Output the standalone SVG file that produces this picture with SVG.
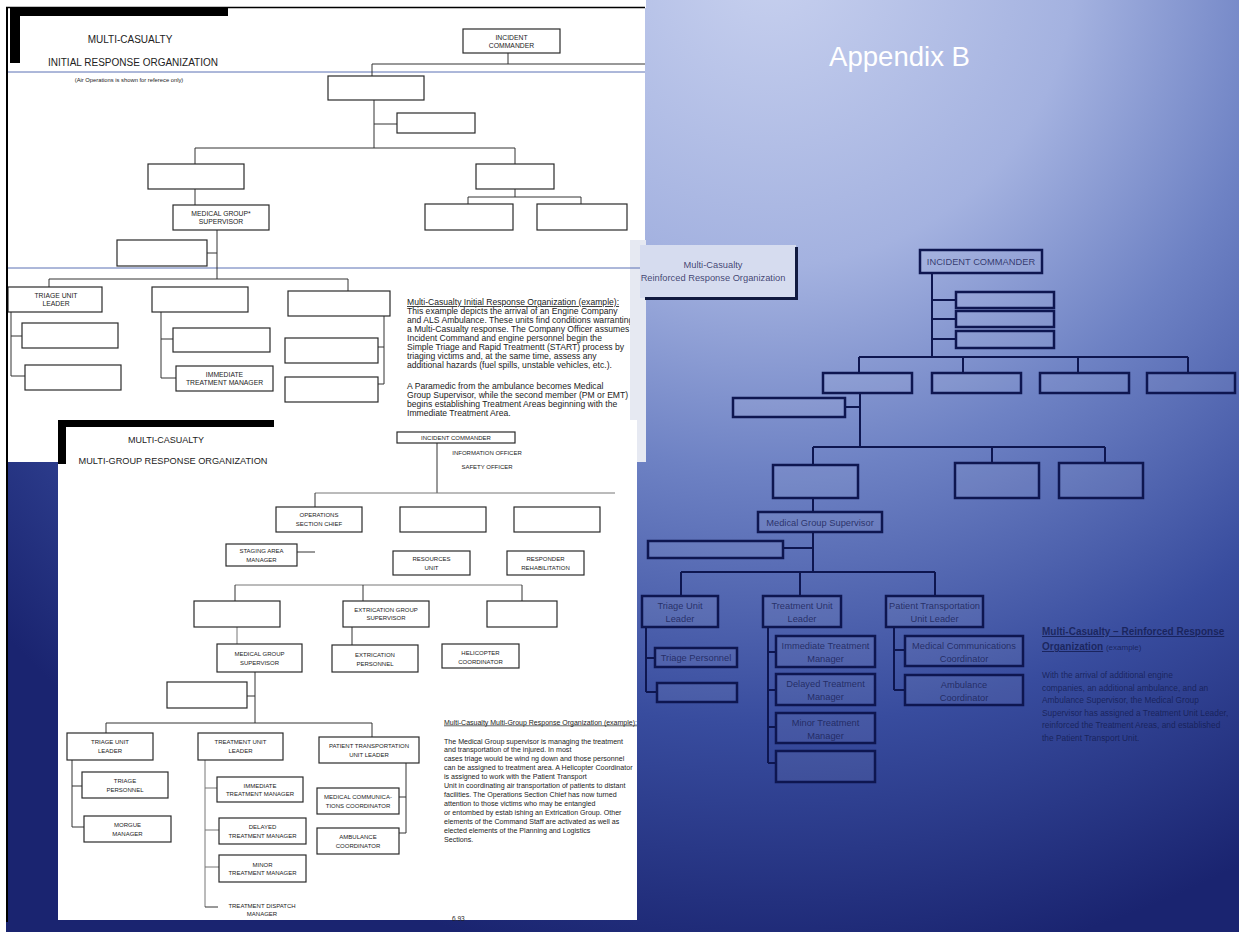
<svg xmlns="http://www.w3.org/2000/svg" width="1239" height="932" viewBox="0 0 1239 932">
<defs>
<radialGradient id="bg" gradientUnits="userSpaceOnUse" cx="770" cy="-40" r="1020">
<stop offset="0" stop-color="#c8d1ef"/>
<stop offset="0.3" stop-color="#a4b2e0"/>
<stop offset="0.5" stop-color="#6e82c4"/>
<stop offset="0.75" stop-color="#384c9e"/>
<stop offset="1" stop-color="#1a2470"/>
</radialGradient>
<clipPath id="clipA"><rect x="8" y="8" width="622" height="454"/></clipPath>
<style>
.bx{fill:#fff;stroke:#2a2a2a;stroke-width:1.2}
.ln{fill:none;stroke:#333;stroke-width:1}
.lg{fill:none;stroke:#777;stroke-width:1}
.t{font-family:"Liberation Sans",Arial,sans-serif;fill:#222;text-anchor:middle}
.ta{font-size:6.8px}
.tb{font-size:6px}
.body{font-family:"Liberation Sans",Arial,sans-serif;fill:#222}
.rb{fill:#ffffff;fill-opacity:0.07;stroke:#0e1650;stroke-width:2.5}
.rl{fill:none;stroke:#0e1650;stroke-width:2}
.rt{font-family:"Liberation Sans",Arial,sans-serif;fill:#1a2256;fill-opacity:0.82;text-anchor:middle;font-size:9.3px}
</style>
</defs>

<rect x="0" y="0" width="1239" height="932" fill="url(#bg)"/>
<rect x="0" y="0" width="646" height="8" fill="#fff"/>
<rect x="0" y="0" width="6" height="932" fill="#fff"/>

<!-- Appendix B title -->
<text x="829" y="66" font-family="Liberation Sans, Arial, sans-serif" font-size="28" fill="#fff" textLength="141" lengthAdjust="spacingAndGlyphs">Appendix B</text>

<!-- ================= PANEL A ================= -->
<g id="panelA">
<rect x="8" y="8" width="637" height="454" fill="#fff"/>
<rect x="630" y="240" width="16" height="222" fill="#e6e9f2"/>
<line x1="6" y1="7.5" x2="645" y2="7.5" stroke="#000" stroke-width="1.6"/>
<rect x="10" y="8" width="218" height="8" fill="#000"/>
<rect x="10" y="8" width="10" height="55" fill="#000"/>
<line x1="8" y1="72" x2="645" y2="72" stroke="#5a70b4" stroke-width="1"/>
<line x1="8" y1="268" x2="645" y2="268" stroke="#5a70b4" stroke-width="1"/>
<text class="t" x="130" y="43" font-size="10">MULTI-CASUALTY</text>
<text class="t" x="133" y="66" font-size="10">INITIAL RESPONSE ORGANIZATION</text>
<text class="t" x="129" y="82" font-size="5.8">(Air Operations is shown for referece only)</text>
<g clip-path="url(#clipA)">
<text class="body" x="407" y="305" font-size="8.6" text-decoration="underline">Multi-Casualty Initial Response Organization (example):</text>
<text class="body" x="407" y="314" font-size="8.6">This example depicts the arrival of an Engine Company</text>
<text class="body" x="407" y="323" font-size="8.6">and ALS Ambulance. These units find conditions warranting</text>
<text class="body" x="407" y="332" font-size="8.6">a Multi-Casualty response. The Company Officer assumes</text>
<text class="body" x="407" y="341" font-size="8.6">Incident Command and engine personnel begin the</text>
<text class="body" x="407" y="350" font-size="8.6">Simple Triage and Rapid Treatmentt (START) process by</text>
<text class="body" x="407" y="359" font-size="8.6">triaging victims and, at the same time, assess any</text>
<text class="body" x="407" y="368" font-size="8.6">additional hazards (fuel spills, unstable vehicles, etc.).</text>
<text class="body" x="407" y="389" font-size="8.6">A Paramedic from the ambulance becomes Medical</text>
<text class="body" x="407" y="398" font-size="8.6">Group Supervisor, while the second member (PM or EMT)</text>
<text class="body" x="407" y="407" font-size="8.6">begins establishing Treatment Areas beginning with the</text>
<text class="body" x="407" y="416" font-size="8.6">Immediate Treatment Area.</text>
</g>
</g>

<g id="connectorsA">
<path class="ln" d="M508,53V64M372,64H645M372,64V76"/>
<path class="ln" d="M374,100V148M374,124H397"/>
<path class="ln" d="M195,148H515M195,148V164M515,148V164"/>
<path class="ln" d="M515,189V197M468,197H581M468,197V204M581,197V204"/>
<path class="ln" d="M195,189V205"/>
<path class="ln" d="M217,230V279M207,253H217"/>
<path class="ln" d="M49,279H348M49,279V287M348,279V291"/>
<path class="ln" d="M11,312V376M11,336H22M11,376H25"/>
<path class="ln" d="M161,312V378M161,339H173M161,378H176"/>
<path class="ln" d="M384,316V384M378,347H384M378,384H384"/>
</g>

<g id="a-ic"><rect class="bx" x="463" y="29" width="97" height="24"/><text class="t ta" x="511.5" y="39.5">INCIDENT</text><text class="t ta" x="511.5" y="47.5">COMMANDER</text></g>
<g id="a-ops"><rect class="bx" x="328" y="76" width="96" height="24"/></g>
<g id="a-air"><rect class="bx" x="397" y="113" width="78" height="20"/></g>
<g id="a-l3a"><rect class="bx" x="148" y="164" width="96" height="25"/></g>
<g id="a-l3b"><rect class="bx" x="476" y="164" width="78" height="25"/></g>
<g id="a-l4a"><rect class="bx" x="425" y="204" width="88" height="26"/></g>
<g id="a-l4b"><rect class="bx" x="537" y="204" width="90" height="26"/></g>
<g id="a-mgs"><rect class="bx" x="173" y="205" width="96" height="25"/><text class="t ta" x="221" y="216">MEDICAL GROUP*</text><text class="t ta" x="221" y="224">SUPERVISOR</text></g>
<g id="a-stg"><rect class="bx" x="117" y="240" width="90" height="26"/></g>
<g id="a-tul"><rect class="bx" x="8" y="287" width="94" height="25"/><text class="t ta" x="56" y="298">TRIAGE UNIT</text><text class="t ta" x="56" y="306">LEADER</text></g>
<g id="a-trt"><rect class="bx" x="152" y="287" width="96" height="25"/></g>
<g id="a-ptr"><rect class="bx" x="288" y="291" width="102" height="25"/></g>
<g id="a-t1"><rect class="bx" x="22" y="323" width="96" height="25"/></g>
<g id="a-t2"><rect class="bx" x="25" y="365" width="96" height="25"/></g>
<g id="a-tr1"><rect class="bx" x="173" y="328" width="97" height="24"/></g>
<g id="a-tr2"><rect class="bx" x="176" y="366" width="97" height="25"/><text class="t ta" x="224.5" y="377">IMMEDIATE</text><text class="t ta" x="224.5" y="385">TREATMENT MANAGER</text></g>
<g id="a-p1"><rect class="bx" x="285" y="338" width="93" height="25"/></g>
<g id="a-p2"><rect class="bx" x="285" y="377" width="93" height="25"/></g>

<!-- ================= PANEL B ================= -->
<g id="panelB">
<rect x="58" y="420" width="579" height="500" fill="#fff"/>
<rect x="58" y="420" width="216" height="7" fill="#000"/>
<rect x="58" y="420" width="8" height="44" fill="#000"/>
<text class="t" x="166" y="443" font-size="9">MULTI-CASUALTY</text>
<text class="t" x="173" y="464" font-size="9.2">MULTI-GROUP RESPONSE ORGANIZATION</text>
<text class="t tb" x="487" y="455">INFORMATION OFFICER</text>
<text class="t tb" x="487" y="469">SAFETY OFFICER</text>
<text class="body" x="444" y="724.5" font-size="7" text-decoration="underline">Multi-Casualty Multi-Group Response Organization (example):</text>
<text class="body" x="444" y="743.5" font-size="7.1">The Medical Group supervisor is managing the treatment</text>
<text class="body" x="444" y="752" font-size="7.1">and transportation of the injured. In most</text>
<text class="body" x="444" y="761" font-size="7.1">cases triage would be wind ng down and those personnel</text>
<text class="body" x="444" y="770" font-size="7.1">can be assigned to treatment area. A Helicopter Coordinator</text>
<text class="body" x="444" y="779" font-size="7.1">is assigned to work with the Patient Transport</text>
<text class="body" x="444" y="788" font-size="7.1">Unit in coordinating air transportation of patients to distant</text>
<text class="body" x="444" y="797" font-size="7.1">facilities. The Operations Section Chief has now turned</text>
<text class="body" x="444" y="806" font-size="7.1">attention to those victims who may be entangled</text>
<text class="body" x="444" y="815" font-size="7.1">or entombed by estab ishing an Extrication Group. Other</text>
<text class="body" x="444" y="824" font-size="7.1">elements of the Command Staff are activated as well as</text>
<text class="body" x="444" y="833" font-size="7.1">elected elements of the Planning and Logistics</text>
<text class="body" x="444" y="842" font-size="7.1">Sections.</text>
<text class="body" x="452" y="921" font-size="6.5">6.93</text>
</g>

<g id="connectorsB">
<path class="ln" d="M437,443V493"/>
<path class="lg" d="M315,493H615"/>
<path class="ln" d="M315,493V507M297,552H315"/>
<path class="lg" d="M235,585H522"/>
<path class="ln" d="M235,585V601M363,585V601M522,585V601"/>
<path class="lg" d="M237,627V644"/>
<path class="ln" d="M352,627V645" stroke-width="2"/>
<path class="ln" d="M255,672V723M247,696H255"/>
<path class="ln" d="M106,723H372M106,723V733M372,723V737"/>
<path class="ln" d="M72,760V827M72,786H82M72,827H84"/>
<path class="lg" d="M205,760V907M205,788H217M205,830H219M205,867H219"/>
<path class="ln" d="M205,907H218"/>
<path class="ln" d="M406,763V833M399,797H406M399,833H406"/>
</g>

<g id="b-ic"><rect class="bx" x="397" y="432" width="118" height="11"/><text class="t tb" x="456" y="440">INCIDENT COMMANDER</text></g>
<g id="b-ops"><rect class="bx" x="276" y="507" width="86" height="25"/><text class="t tb" x="319" y="517">OPERATIONS</text><text class="t tb" x="319" y="525.5">SECTION CHIEF</text></g>
<g id="b-plan"><rect class="bx" x="400" y="507" width="86" height="25"/></g>
<g id="b-log"><rect class="bx" x="514" y="507" width="86" height="25"/></g>
<g id="b-stg"><rect class="bx" x="226" y="544" width="71" height="22"/><text class="t tb" x="261.5" y="553">STAGING AREA</text><text class="t tb" x="261.5" y="561.5">MANAGER</text></g>
<g id="b-res"><rect class="bx" x="393" y="551" width="77" height="24"/><text class="t tb" x="431.5" y="561">RESOURCES</text><text class="t tb" x="431.5" y="569.5">UNIT</text></g>
<g id="b-reh"><rect class="bx" x="507" y="551" width="77" height="24"/><text class="t tb" x="545.5" y="561">RESPONDER</text><text class="t tb" x="545.5" y="569.5">REHABILITATION</text></g>
<g id="b-fire"><rect class="bx" x="194" y="601" width="86" height="26"/></g>
<g id="b-ext"><rect class="bx" x="343" y="601" width="86" height="26"/><text class="t tb" x="386" y="611.5">EXTRICATION GROUP</text><text class="t tb" x="386" y="620">SUPERVISOR</text></g>
<g id="b-air"><rect class="bx" x="487" y="601" width="70" height="26"/></g>
<g id="b-mgs"><rect class="bx" x="217" y="644" width="85" height="28"/><text class="t tb" x="259.5" y="656">MEDICAL GROUP</text><text class="t tb" x="259.5" y="664.5">SUPERVISOR</text></g>
<g id="b-exp"><rect class="bx" x="332" y="645" width="86" height="27"/><text class="t tb" x="375" y="657">EXTRICATION</text><text class="t tb" x="375" y="665.5">PERSONNEL</text></g>
<g id="b-heli"><rect class="bx" x="442" y="644" width="77" height="24"/><text class="t tb" x="480.5" y="655">HELICOPTER</text><text class="t tb" x="480.5" y="663.5">COORDINATOR</text></g>
<g id="b-stgm"><rect class="bx" x="167" y="682" width="80" height="26"/></g>
<g id="b-tul"><rect class="bx" x="67" y="733" width="86" height="27"/><text class="t tb" x="110" y="744">TRIAGE UNIT</text><text class="t tb" x="110" y="752.5">LEADER</text></g>
<g id="b-trul"><rect class="bx" x="198" y="733" width="85" height="27"/><text class="t tb" x="240.5" y="744">TREATMENT UNIT</text><text class="t tb" x="240.5" y="752.5">LEADER</text></g>
<g id="b-ptul"><rect class="bx" x="319" y="737" width="100" height="26"/><text class="t tb" x="369" y="748">PATIENT TRANSPORTATION</text><text class="t tb" x="369" y="756.5">UNIT LEADER</text></g>
<g id="b-tp"><rect class="bx" x="82" y="772" width="86" height="26"/><text class="t tb" x="125" y="783">TRIAGE</text><text class="t tb" x="125" y="791.5">PERSONNEL</text></g>
<g id="b-mm"><rect class="bx" x="84" y="816" width="87" height="26"/><text class="t tb" x="127.5" y="827">MORGUE</text><text class="t tb" x="127.5" y="835.5">MANAGER</text></g>
<g id="b-itm"><rect class="bx" x="217" y="777" width="86" height="25"/><text class="t tb" x="260" y="787.5">IMMEDIATE</text><text class="t tb" x="260" y="796">TREATMENT MANAGER</text></g>
<g id="b-dtm"><rect class="bx" x="219" y="818" width="87" height="26"/><text class="t tb" x="262.5" y="829">DELAYED</text><text class="t tb" x="262.5" y="837.5">TREATMENT MANAGER</text></g>
<g id="b-mtm"><rect class="bx" x="219" y="855" width="87" height="27"/><text class="t tb" x="262.5" y="866.5">MINOR</text><text class="t tb" x="262.5" y="875">TREATMENT MANAGER</text></g>
<g id="b-tdm"><text class="t tb" x="262" y="907.5">TREATMENT DISPATCH</text><text class="t tb" x="262" y="916">MANAGER</text></g>
<g id="b-mcc"><rect class="bx" x="317" y="788" width="82" height="26"/><text class="t tb" x="358" y="799">MEDICAL COMMUNICA-</text><text class="t tb" x="358" y="807.5">TIONS COORDINATOR</text></g>
<g id="b-amb"><rect class="bx" x="317" y="828" width="82" height="26"/><text class="t tb" x="358" y="839">AMBULANCE</text><text class="t tb" x="358" y="847.5">COORDINATOR</text></g>

<!-- ================= PANEL C ================= -->
<g id="c-title">
<rect x="640" y="245" width="156" height="53" fill="#d6dcef"/>
<path d="M645,298.5H798M796.5,247V300" stroke="#111a40" stroke-width="3" fill="none"/>
<text class="rt" x="713" y="268" font-size="9">Multi-Casualty</text>
<text class="rt" x="713" y="281" font-size="9">Reinforced Response Organization</text>
</g>

<g id="connectorsC">
<path class="rl" d="M932,273V357M932,300H956M932,319H956M932,339H956"/>
<path class="rl" d="M859,357H1188M859,357V373M963,357V373M1078,357V373M1188,357V373"/>
<path class="rl" d="M860,393V447M845,407H860"/>
<path class="rl" d="M813,447H1105M813,447V465M992,447V463M1105,447V463"/>
<path class="rl" d="M813,498V512"/>
<path class="rl" d="M813,532V572M783,548H813"/>
<path class="rl" d="M681,572H935M681,572V596M800,572V596M935,572V596"/>
<path class="rl" d="M646,627V692M646,658H655M646,692H657"/>
<path class="rl" d="M768,627V763M768,652H776M768,690H776M768,727H776M768,763H776"/>
<path class="rl" d="M894,627V690M894,650H905M894,690H905"/>
</g>

<g id="c-ic"><rect class="rb" x="920" y="250" width="122" height="23" fill-opacity="0.18"/><text class="rt" x="981" y="265" font-size="9.6">INCIDENT COMMANDER</text></g>
<g id="c-s1"><rect class="rb" x="956" y="292" width="98" height="16"/></g>
<g id="c-s2"><rect class="rb" x="956" y="311" width="98" height="16"/></g>
<g id="c-s3"><rect class="rb" x="956" y="331" width="98" height="17"/></g>
<g id="c-g1"><rect class="rb" x="823" y="373" width="89" height="20"/></g>
<g id="c-g2"><rect class="rb" x="932" y="373" width="89" height="20"/></g>
<g id="c-g3"><rect class="rb" x="1040" y="373" width="89" height="20"/></g>
<g id="c-g4"><rect class="rb" x="1147" y="373" width="88" height="20"/></g>
<g id="c-stg"><rect class="rb" x="733" y="398" width="112" height="19"/></g>
<g id="c-b1"><rect class="rb" x="773" y="465" width="85" height="33"/></g>
<g id="c-b2"><rect class="rb" x="955" y="463" width="84" height="35"/></g>
<g id="c-b3"><rect class="rb" x="1059" y="463" width="84" height="35"/></g>
<g id="c-mgs"><rect class="rb" x="758" y="512" width="124" height="20"/><text class="rt" x="820" y="525.5" font-size="9.8">Medical Group Supervisor</text></g>
<g id="c-ml"><rect class="rb" x="648" y="541" width="135" height="17"/></g>
<g id="c-tul"><rect class="rb" x="642" y="596" width="76" height="31"/><text class="rt" x="680" y="609">Triage Unit</text><text class="rt" x="680" y="621.5">Leader</text></g>
<g id="c-trul"><rect class="rb" x="763" y="596" width="78" height="31"/><text class="rt" x="802" y="609">Treatment Unit</text><text class="rt" x="802" y="621.5">Leader</text></g>
<g id="c-ptul"><rect class="rb" x="886" y="596" width="97" height="31"/><text class="rt" x="934.5" y="609" font-size="8.9">Patient Transportation</text><text class="rt" x="934.5" y="621.5">Unit Leader</text></g>
<g id="c-tp"><rect class="rb" x="655" y="648" width="82" height="19"/><text class="rt" x="696" y="661">Triage Personnel</text></g>
<g id="c-t2"><rect class="rb" x="657" y="683" width="80" height="19"/></g>
<g id="c-itm"><rect class="rb" x="776" y="636" width="99" height="31"/><text class="rt" x="825.5" y="649">Immediate Treatment</text><text class="rt" x="825.5" y="661.5">Manager</text></g>
<g id="c-dtm"><rect class="rb" x="776" y="674" width="99" height="31"/><text class="rt" x="825.5" y="687">Delayed Treatment</text><text class="rt" x="825.5" y="699.5">Manager</text></g>
<g id="c-mtm"><rect class="rb" x="776" y="713" width="99" height="30"/><text class="rt" x="825.5" y="726">Minor Treatment</text><text class="rt" x="825.5" y="738.5">Manager</text></g>
<g id="c-e4"><rect class="rb" x="776" y="751" width="99" height="31"/></g>
<g id="c-mcc"><rect class="rb" x="905" y="636" width="118" height="30"/><text class="rt" x="964" y="649">Medical Communications</text><text class="rt" x="964" y="661.5">Coordinator</text></g>
<g id="c-amb"><rect class="rb" x="905" y="675" width="118" height="30"/><text class="rt" x="964" y="688">Ambulance</text><text class="rt" x="964" y="700.5">Coordinator</text></g>

<g id="c-text" font-family="Liberation Sans, Arial, sans-serif" fill="#141c50" fill-opacity="0.82">
<text x="1042" y="635" font-size="10" font-weight="bold" text-decoration="underline">Multi-Casualty – Reinforced Response</text>
<text x="1042" y="650" font-size="10"><tspan font-weight="bold" text-decoration="underline">Organization</tspan> <tspan font-size="8">(example)</tspan></text>
<text x="1042" y="678" font-size="8.4">With the arrival of additional engine</text>
<text x="1042" y="691" font-size="8.4">companies, an additional ambulance, and an</text>
<text x="1042" y="703" font-size="8.4">Ambulance Supervisor, the Medical Group</text>
<text x="1042" y="716" font-size="8.4">Supervisor has assigned a Treatment Unit Leader,</text>
<text x="1042" y="728" font-size="8.4">reinforced the Treatment Areas, and established</text>
<text x="1042" y="741" font-size="8.4">the Patient Transport Unit.</text>
</g>

<!-- outer frame -->
<line x1="7" y1="7" x2="7" y2="922" stroke="#000" stroke-width="2"/>
</svg>
